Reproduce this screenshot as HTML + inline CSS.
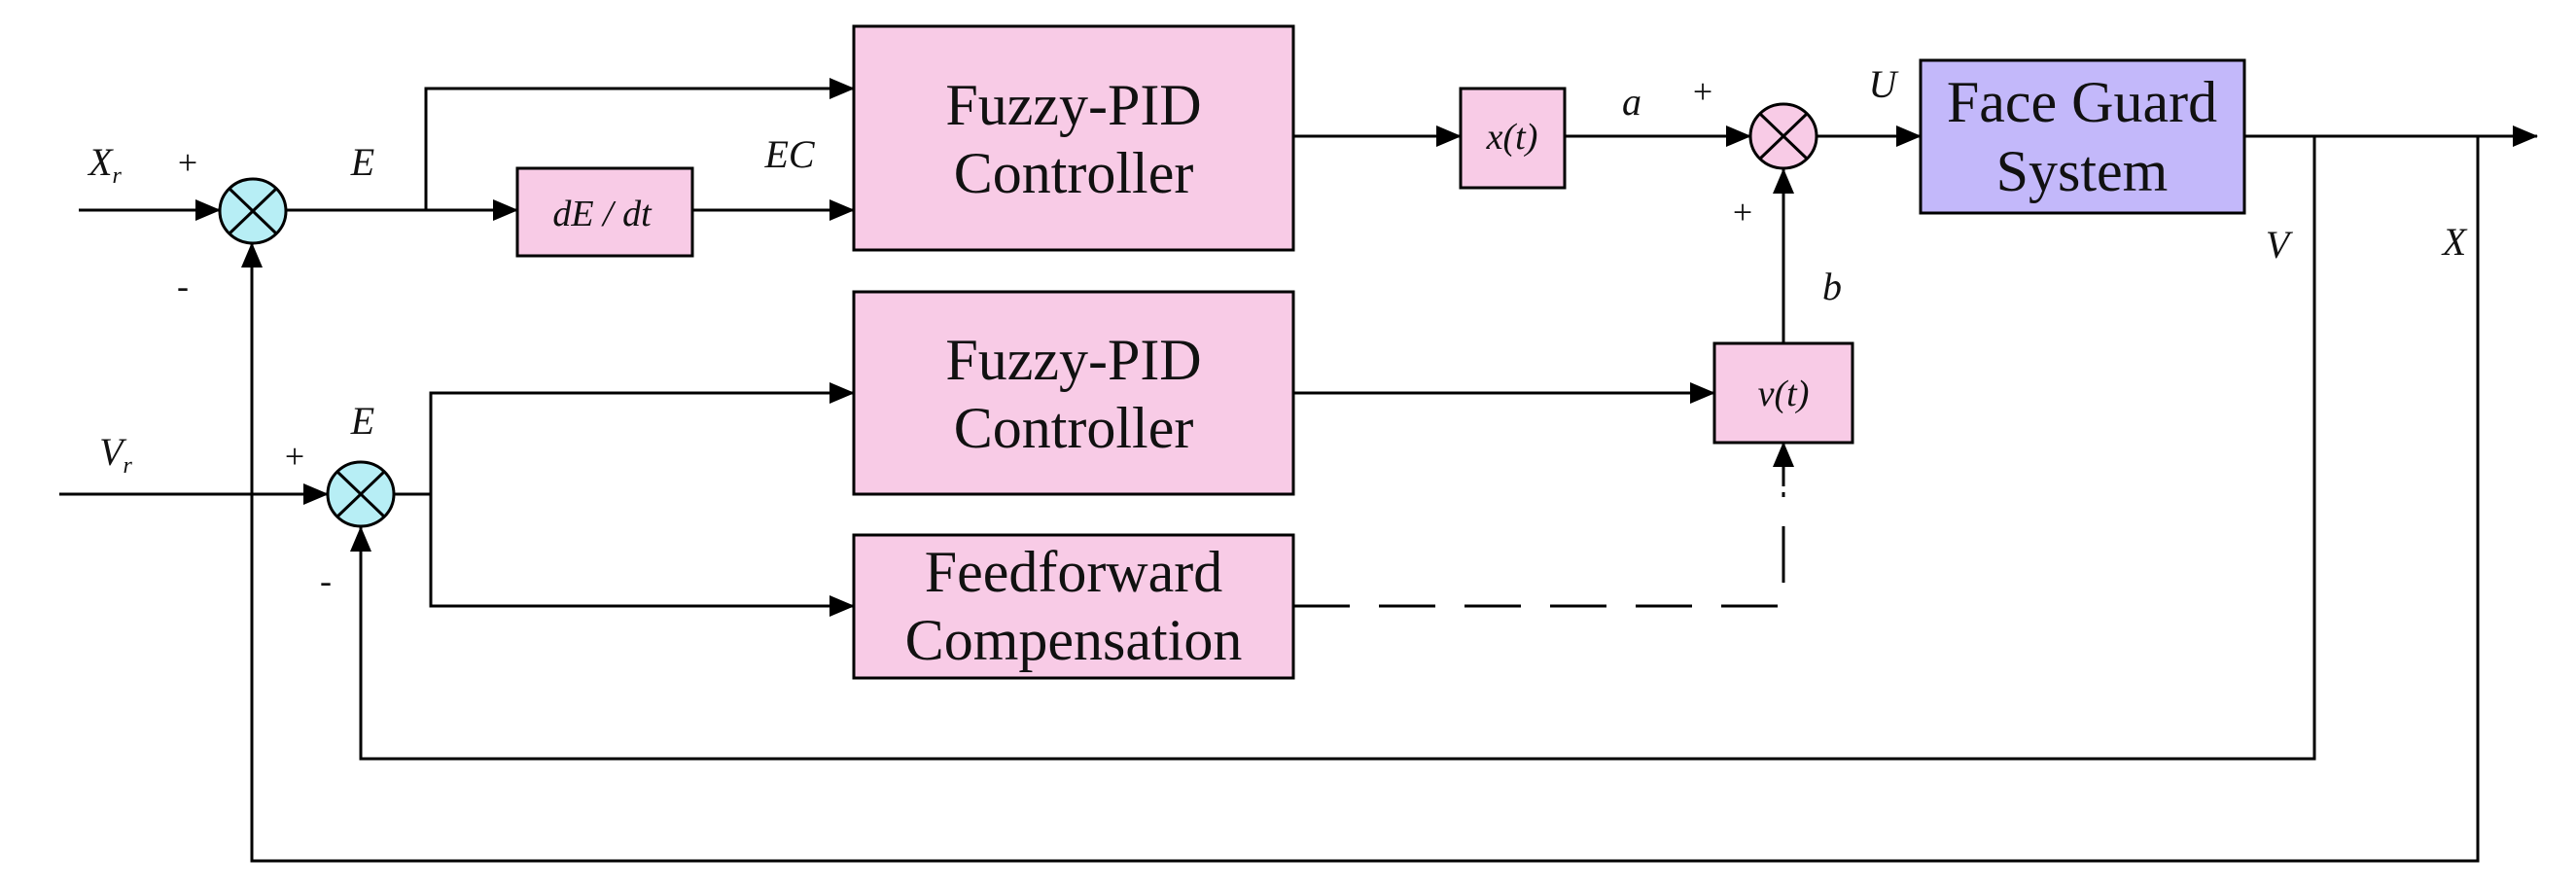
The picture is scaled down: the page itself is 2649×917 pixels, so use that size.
<!DOCTYPE html>
<html><head><meta charset="utf-8"><style>
html,body{margin:0;padding:0;background:#fff;}
svg{display:block;}
.t{font-family:"Liberation Serif",serif;fill:#111;}
.i{font-family:"Liberation Serif",serif;font-style:italic;fill:#111;}
</style></head><body>
<svg width="2649" height="917" viewBox="0 0 2649 917" xmlns="http://www.w3.org/2000/svg">
<defs>
<marker id="a" markerWidth="26" markerHeight="22" refX="25" refY="11" orient="auto" markerUnits="userSpaceOnUse">
<path d="M0,0 L26,11 L0,22 Z" fill="#000"/></marker>
</defs>
<g stroke="#000" stroke-width="3" fill="none">
<!-- Xr input -->
<line x1="81" y1="216" x2="226" y2="216" marker-end="url(#a)"/>
<!-- E out -->
<polyline points="294,216 438,216"/>
<polyline points="438,216 438,91 878,91" marker-end="url(#a)"/>
<line x1="438" y1="216" x2="532" y2="216" marker-end="url(#a)"/>
<line x1="712" y1="216" x2="878" y2="216" marker-end="url(#a)"/>
<!-- fuzzy1 to x(t) -->
<line x1="1330" y1="140" x2="1502" y2="140" marker-end="url(#a)"/>
<line x1="1609" y1="140" x2="1800" y2="140" marker-end="url(#a)"/>
<line x1="1868" y1="140" x2="1975" y2="140" marker-end="url(#a)"/>
<!-- output -->
<line x1="2308" y1="140" x2="2609" y2="140" marker-end="url(#a)"/>
<!-- V feedback -->
<polyline points="2380,140 2380,780 371,780 371,542" marker-end="url(#a)"/>
<!-- X feedback -->
<polyline points="2548,140 2548,885 259,885 259,250" marker-end="url(#a)"/>
<!-- Vr input -->
<line x1="61" y1="508" x2="337" y2="508" marker-end="url(#a)"/>
<!-- E2 branch -->
<line x1="405" y1="508" x2="443" y2="508"/>
<polyline points="443,508 443,404 878,404" marker-end="url(#a)"/>
<polyline points="443,508 443,623 878,623" marker-end="url(#a)"/>
<!-- fuzzy2 to v(t) -->
<line x1="1330" y1="404" x2="1763" y2="404" marker-end="url(#a)"/>
<!-- v(t) to sum3 -->
<line x1="1834" y1="353" x2="1834" y2="174" marker-end="url(#a)"/>
<!-- dashed -->
<polyline points="1330,623 1834,623 1834,506" stroke-dasharray="58,30"/>
<line x1="1834" y1="500" x2="1834" y2="455" marker-end="url(#a)"/>
</g>
<!-- boxes -->
<g stroke="#000" stroke-width="3">
<rect x="532" y="173" width="180" height="90" fill="#f8cbe6"/>
<rect x="878" y="27" width="452" height="230" fill="#f8cbe6"/>
<rect x="878" y="300" width="452" height="208" fill="#f8cbe6"/>
<rect x="878" y="550" width="452" height="147" fill="#f8cbe6"/>
<rect x="1502" y="91" width="107" height="102" fill="#f8cbe6"/>
<rect x="1763" y="353" width="142" height="102" fill="#f8cbe6"/>
<rect x="1975" y="62" width="333" height="157" fill="#c3b8fa"/>
<ellipse cx="260" cy="217" rx="34" ry="33" fill="#b7eef5"/>
<ellipse cx="371" cy="508" rx="34" ry="33" fill="#b7eef5"/>
<ellipse cx="1834" cy="140" rx="34" ry="33" fill="#f8cbe6"/>
</g>
<g stroke="#000" stroke-width="3">
<line x1="236" y1="194" x2="284" y2="240"/><line x1="284" y1="194" x2="236" y2="240"/>
<line x1="347" y1="485" x2="395" y2="531"/><line x1="395" y1="485" x2="347" y2="531"/>
<line x1="1810" y1="117" x2="1858" y2="163"/><line x1="1858" y1="117" x2="1810" y2="163"/>
</g>
<!-- box text -->
<g class="t" font-size="60" text-anchor="middle">
<text x="1104" y="128">Fuzzy-PID</text>
<text x="1104" y="198">Controller</text>
<text x="1104" y="390">Fuzzy-PID</text>
<text x="1104" y="460">Controller</text>
<text x="1104" y="608">Feedforward</text>
<text x="1104" y="678">Compensation</text>
<text x="2141" y="125">Face Guard</text>
<text x="2141" y="196">System</text>
</g>
<g class="i" font-size="38" text-anchor="middle">
<text x="619" y="232">dE / dt</text>
<text x="1555" y="153">x(t)</text>
<text x="1834" y="417">v(t)</text>
</g>
<g class="i" font-size="40" text-anchor="middle">
<text x="108" y="180">X<tspan font-size="24" dy="8">r</tspan></text>
<text x="373" y="180">E</text>
<text x="812" y="172">EC</text>
<text x="119" y="478">V<tspan font-size="24" dy="8">r</tspan></text>
<text x="373" y="446">E</text>
<text x="1678" y="118">a</text>
<text x="1884" y="308">b</text>
<text x="1936" y="100">U</text>
<text x="2342" y="265">V</text>
<text x="2524" y="262">X</text>
</g>
<g class="t" font-size="36" text-anchor="middle">
<text x="193" y="179">+</text>
<text x="188" y="306">-</text>
<text x="303" y="481">+</text>
<text x="335" y="609">-</text>
<text x="1751" y="106">+</text>
<text x="1792" y="230">+</text>
</g>
</svg>
</body></html>
